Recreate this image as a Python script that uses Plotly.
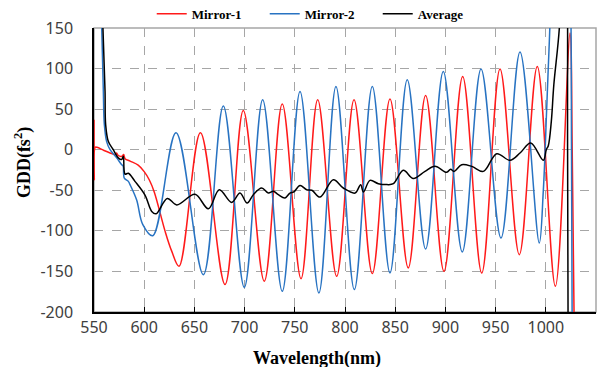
import plotly.graph_objects as go

# ---------------- data ----------------
red_x = [550.0, 550.3, 551.2, 553, 560, 566, 571, 572.5, 574, 578, 579.5, 581, 586, 594, 600, 605, 610,
         620.7, 627.4, 634.7, 656, 680.5, 698.7, 719.6, 737.5, 756.2, 772.8, 791.7, 809, 827.2,
         844.8, 863, 880.3, 898.6, 917.2, 936.2, 954.4, 973.6, 991.5, 1009.5, 1024.1, 1026.3,
         1028.3, 1030]
red_y = [37, -37, 3, 3, -1, -4, -6, -4, -7, -8, -6, -11, -14, -19, -27, -37, -52,
         -100, -125, -143.6, 21, -166, 48.4, -162, 56.2, -158.9, 61.6, -156, 61.6, -152.7,
         62.4, -145.7, 66.9, -149.9, 90.3, -151.9, 99.4, -129.3, 102.6, -168.3, 143.7, 0,
         -220, -320]

blue_x = [550.0, 551.0, 555.0, 557.7, 559.3, 560.3, 562.6, 566, 572.6, 577.6, 579.0, 580.2, 584.2,
          585.9, 592.5, 598.5, 608.5, 631.7, 658.9, 678.8, 699.7, 718, 737.5, 755.2, 774, 791,
          809.3, 827.2, 844.8, 862, 880.3, 897.9, 916.8, 935.5, 955.4, 974.3, 993.5, 997.5,
          1000.9, 1003.5, 1008, 1015, 1022, 1024.8, 1025.6, 1026.5]
blue_y = [-400, 400, 350, 150, 72, 31, 10, 0, -10, -18.5, -20, -35, -39,
          -43, -62, -92, -106, 21, -154, 54, -169.6, 61.6, -174.5, 71.8, -176.5, 78,
          -172.4, 78, -151.8, 86.2, -122.3, 96.5, -126, 99.4, -108.8, 120.3, -115, -51,
          51, 133, 260, 320, 280, 180, 0, -300]

avg_x = [550.0, 551.2, 555.5, 558.9, 561, 561.6, 564.3, 569.2, 574.2, 577.6, 579.2, 580.9, 584.2,
         590.8, 600.8, 607.5, 611.8, 623, 632.4, 650.6, 663.9, 674.8, 687.1, 695.4, 702.5,
         708.7, 717, 723.6, 728.6, 733.6, 740.2, 745.2, 749, 755.2, 761.8, 767, 775.1, 788.4,
         798.3, 810, 815.6, 818.3, 824.9, 833.2, 841.6, 848.2, 858.1, 868, 879.7, 889.6,
         901.3, 905.2, 908.6, 916.2, 926.2, 937.8, 951.1, 964.3, 974.3, 985, 997.5, 1000.5,
         1002.5, 1005.5, 1008, 1013.5, 1017, 1020.8, 1021.7, 1022.6]
avg_y = [-400, 400, 350, 150, 72, 31, 10, 0, -10, -12, -8, -30, -29,
         -39, -56, -76, -79, -60, -68, -55, -72.7, -49.3, -64.9, -53.4, -65.7,
         -55.4, -47.2, -53.4, -51.3, -55.4, -59.5, -53.4, -52, -44, -49.3, -50, -58.3, -37,
         -47.2, -53.4, -43.1, -52.1, -37.8, -41.9, -43, -41.9, -25.4, -35.5, -26.7, -20.5,
         -27.9, -24, -26.7, -18.5, -20.5, -26.7, -4.9, -13.1, -4.1, 8.2, -13.1, 0,
         5, 35, 80, 150, 260, 350, 0, -400]

x_ticks = [550, 600, 650, 700, 750, 800, 850, 900, 950, 1000, 1050]
y_ticks = [-200, -150, -100, -50, 0, 50, 100, 150]
y_tick_text = ["-200", "-150", "-100", "-50", "0", "50", "100", "150"]

series = [
    ("Mirror-1", red_x, red_y, "#ff1a1a"),
    ("Mirror-2", blue_x, blue_y, "#2873c2"),
    ("Average", avg_x, avg_y, "#000000"),
]

fig = go.Figure()
for name, xs, ys, col in series:
    fig.add_trace(go.Scatter(
        x=xs, y=ys, mode="lines", name=name,
        line=dict(color=col, width=1.5, shape="spline", smoothing=1.0),
    ))

serif = "Liberation Serif, Times New Roman, serif"
tickfont = dict(family="Noto Sans, Arial, sans-serif", size=16, color="#404040")
grid = dict(showgrid=True, gridcolor="#a6a6a6", gridwidth=1, griddash="dash", zeroline=False)

fig.update_layout(
    width=608, height=367,
    margin=dict(l=94, r=12, t=28, b=55, autoexpand=False),
    paper_bgcolor="white", plot_bgcolor="white",
    showlegend=True,
    legend=dict(orientation="h", x=0.115, xanchor="left", y=1.05, yanchor="middle",
                font=dict(family=serif, size=13, color="black", weight="bold"),
                bgcolor="rgba(0,0,0,0)", itemwidth=30, entrywidth=68, entrywidthmode="pixels"),
    xaxis=dict(range=[550, 1050], tickvals=x_ticks, ticktext=[str(v) for v in x_ticks],
               tickfont=tickfont, showline=True, linecolor="black", linewidth=1.5,
               ticks="inside", ticklen=5, tickcolor="black", tickwidth=1, **grid),
    yaxis=dict(range=[-200, 150], tickvals=y_ticks, ticktext=y_tick_text,
               tickfont=tickfont, showline=True, linecolor="black", linewidth=1.5,
               ticks="", ticklabelstandoff=16, **grid),
    shapes=[dict(type="rect", xref="paper", yref="paper", x0=0, y0=0, x1=1, y1=1,
                 line=dict(color="#a6a6a6", width=1.5), layer="below")],
    annotations=[
        dict(text="<b>Wavelength(nm)</b>", xref="paper", yref="paper", x=0.444, y=-0.162,
             xanchor="center", yanchor="middle", showarrow=False,
             font=dict(family=serif, size=18, color="black")),
        dict(text="<b>GDD(fs<sup>2</sup>)</b>", xref="paper", yref="paper", x=-0.141, y=0.525,
             xanchor="center", yanchor="middle", showarrow=False, textangle=-90,
             font=dict(family=serif, size=18, color="black")),
    ],
)

fig.write_html("out.html")
